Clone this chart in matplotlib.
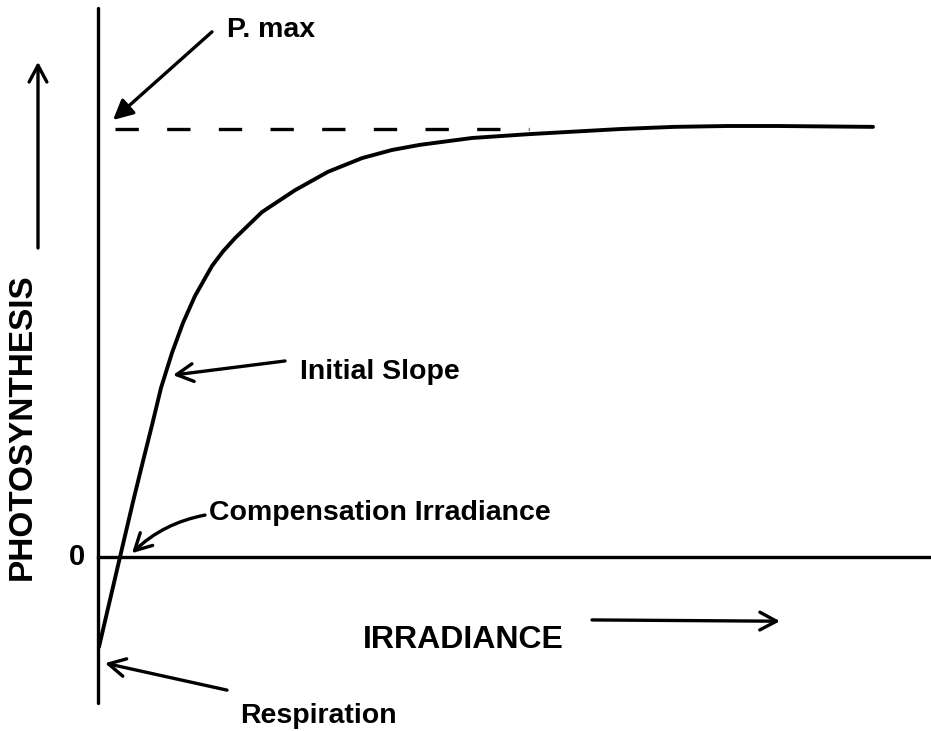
import matplotlib
matplotlib.use('agg')
import matplotlib.pyplot as plt

plt.rcParams['font.family'] = ['Liberation Sans', 'DejaVu Sans']

# light-response curve (arbitrary units, P max = 100)
irradiance = [0.1, 2.2, 3.5, 4.5, 5.4, 6.3, 7.4, 8.5, 9.7, 11.4, 12.5, 13.7, 16.4, 19.7,
              23.0, 26.4, 29.4, 32.2, 37.4, 43.1, 46.9, 52.3, 57.6, 63.0, 68.0, 77.5]
photosynthesis = [-21.0, 0.0, 12.9, 22.4, 30.8, 39.5, 47.7, 54.7, 61.0, 68.0, 71.4, 74.5, 80.6, 85.7,
                  90.0, 93.2, 95.1, 96.3, 97.9, 98.8, 99.3, 100.0, 100.5, 100.7, 100.7, 100.5]
p_max = 100.0
p_max_span = [1.7, 43.1]

fig = plt.figure(figsize=(9.31, 7.31), dpi=100)
ax = fig.add_axes([0, 0, 1, 1])
ax.set_xlim(-9.8, 83.3)
ax.set_ylim(-40.65, 130.14)
ax.axis('off')

lw = 2.4
# axes drawn by hand, like the original sketch
ax.plot([0, 0], [-34.1, 128.3], color='black', lw=lw, solid_capstyle='round')
ax.plot([0, 83.3], [0, 0], color='black', lw=lw)

ax.plot(irradiance, photosynthesis, color='black', lw=2.8,
        solid_capstyle='round', solid_joinstyle='round')
ax.plot(p_max_span, [p_max, p_max], color='black', lw=2.4, dashes=(7, 8.5))

font = dict(fontsize=20.5, fontweight='bold', color='black')
arrow = dict(arrowstyle='->,head_length=0.6,head_width=0.32', color='black', lw=2.4,
             shrinkA=0, shrinkB=0, mutation_scale=20)

ax.text(12.9, 123.1, 'P. max', ha='left', va='center', **font)
ax.annotate('', xy=(1.5, 102.1), xytext=(11.4, 122.7),
            arrowprops=dict(arrow, arrowstyle='-|>,head_length=0.6,head_width=0.3'))

ax.text(20.2, 43.2, 'Initial Slope', ha='left', va='center', **font)
ax.annotate('', xy=(7.5, 42.5), xytext=(18.7, 45.8), arrowprops=arrow)

ax.text(11.1, 10.3, 'Compensation Irradiance', ha='left', va='center', **font)
ax.annotate('', xy=(3.4, 0.9), xytext=(10.7, 9.8),
            arrowprops=dict(arrow, connectionstyle='arc3,rad=0.15'))

ax.text(14.2, -37.1, 'Respiration', ha='left', va='center', **font)
ax.annotate('', xy=(0.7, -24.8), xytext=(12.9, -31.1), arrowprops=arrow)

ax.text(26.5, -19.4, 'IRRADIANCE', ha='left', va='center', fontsize=23, fontweight='bold')
ax.annotate('', xy=(68.2, -15.0), xytext=(49.4, -14.7), arrowprops=arrow)

ax.text(-2.1, 0, '0', ha='center', va='center', fontsize=21, fontweight='bold')

ax.text(-7.6, 30.4, 'PHOTOSYNTHESIS', ha='center', va='center', rotation=90,
        fontsize=24, fontweight='bold')
ax.annotate('', xy=(-6.0, 115.7), xytext=(-6.0, 72.2), arrowprops=arrow)

fig.savefig('out.png', dpi=100, facecolor='white')
